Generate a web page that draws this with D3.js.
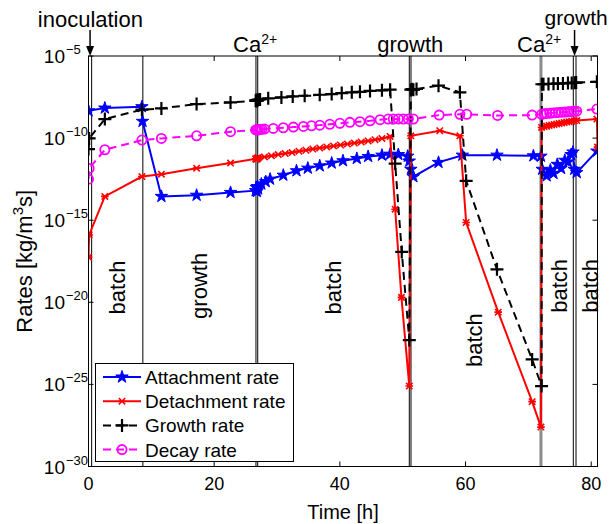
<!DOCTYPE html>
<html><head><meta charset="utf-8">
<script src="https://cdn.jsdelivr.net/npm/d3@7"></script>
<style>body{margin:0;background:#fff}svg{display:block;font-family:"Liberation Sans",Arial,sans-serif}</style>
</head><body><svg id="c" width="609" height="524"></svg>
<script>
// ---- data (times in h, values as log10 of rate) ----
const attT = [0.0,2.6,8.5,8.6,11.6,17.2,22.6,26.6,26.7,26.8,26.9,27.0,27.5,28.2,28.9,31.0,33.1,34.9,36.8,38.7,40.5,42.7,44.5,46.7,48.0,49.3,50.8,51.05,51.3,51.7,55.7,59.5,65.0,70.8,72.0,72.2,72.9,73.5,74.0,74.6,75.2,75.8,76.3,76.8,77.1,77.3,77.7,80.9];
const attLog = [-8.34,-8.17,-8.09,-8.98,-13.55,-13.48,-13.31,-13.2,-13.0,-13.25,-12.95,-13.1,-12.8,-12.65,-12.5,-12.26,-11.99,-11.83,-11.69,-11.52,-11.38,-11.24,-11.12,-11.04,-10.98,-11.0,-11.1,-11.4,-11.9,-12.35,-11.48,-11.04,-11.04,-11.08,-11.1,-11.9,-12.3,-11.95,-12.15,-11.6,-11.85,-11.35,-11.45,-11.0,-10.85,-11.9,-12.1,-10.79];

const detT = [0.0,0.1,2.6,8.5,11.6,17.2,22.6,26.6,26.7,26.8,26.9,27.0,28.0,29.1,30.2,31.3,32.4,33.5,34.6,35.7,36.8,37.9,39.0,40.1,41.2,42.3,43.4,44.5,45.6,46.7,48.0,48.8,49.8,51.05,51.3,55.9,59.1,60.1,65.2,70.6,72.0,72.1,72.5,72.9,73.3,73.7,74.1,74.5,74.9,75.3,75.7,76.1,76.5,76.9,77.3,77.7,80.9,81.0];
const detLog = [-17.25,-15.9,-13.55,-12.34,-12.2,-11.83,-11.52,-11.26,-11.3,-11.22,-11.25,-11.2,-11.15,-11.08,-11.0,-10.94,-10.88,-10.8,-10.74,-10.67,-10.6,-10.54,-10.48,-10.42,-10.36,-10.3,-10.24,-10.17,-10.1,-10.02,-9.9,-14.33,-19.7,-25.1,-9.86,-9.55,-9.86,-15.14,-20.6,-26.05,-27.6,-9.35,-9.3,-9.27,-9.23,-9.2,-9.17,-9.14,-9.11,-9.08,-9.05,-9.02,-9.0,-8.97,-8.95,-8.93,-8.84,-10.55];

const grT = [0.0,0.1,2.6,8.5,11.6,17.2,22.6,26.6,26.7,26.8,26.9,27.0,27.3,28.6,30.7,32.5,34.4,36.8,38.7,40.3,41.9,43.2,44.8,46.7,48.0,48.8,49.85,51.05,51.3,51.5,51.7,52.2,55.7,59.1,60.1,65.0,70.6,72.1,72.15,72.4,73.2,74.0,74.7,75.5,76.3,76.9,77.4,77.6,80.9];
const grLog = [-10.67,-10.02,-8.84,-8.27,-8.19,-7.93,-7.83,-7.72,-7.68,-7.74,-7.7,-7.66,-7.65,-7.58,-7.52,-7.46,-7.42,-7.36,-7.32,-7.26,-7.21,-7.18,-7.13,-7.09,-7.05,-11.55,-16.93,-22.3,-7.05,-7.02,-7.06,-7.01,-6.81,-7.21,-12.6,-17.99,-23.48,-25.1,-6.72,-6.72,-6.7,-6.69,-6.68,-6.67,-6.65,-6.64,-6.63,-6.62,-6.57];

const decT = [0.0,0.1,2.6,8.5,11.6,17.2,22.6,26.6,26.8,27.0,27.3,27.6,28.0,29.4,31.0,32.6,34.2,35.5,36.8,38.4,40.0,41.6,43.2,44.8,46.4,47.7,48.5,49.3,50.1,50.9,51.7,55.8,59.1,60.2,65.1,70.6,72.1,72.5,72.9,73.4,73.8,74.3,74.8,75.3,75.8,76.3,76.8,77.3,77.7,80.9];
const decLog = [-12.5,-11.85,-10.71,-10.12,-10.02,-9.86,-9.61,-9.5,-9.48,-9.5,-9.47,-9.46,-9.45,-9.41,-9.37,-9.33,-9.29,-9.25,-9.21,-9.16,-9.1,-9.04,-9.0,-8.95,-8.88,-8.84,-8.84,-8.83,-8.84,-8.83,-8.84,-8.6,-8.55,-8.55,-8.62,-8.6,-8.55,-8.52,-8.5,-8.48,-8.47,-8.45,-8.44,-8.42,-8.41,-8.4,-8.38,-8.37,-8.36,-8.23];

const seriesNames = ["Attachment rate","Detachment rate","Growth rate","Decay rate"];
const xTicks = [0,20,40,60,80];
const yTickExps = [-5,-10,-15,-20,-25,-30];
const eventLines = [0.5,8.65,26.65,26.93,51.05,51.32,77.15,77.58];
const grayLines = [72.0];
const batchLabels = [
  {t:4.6, e:-19.1, s:"batch"},{t:17.6, e:-19.0, s:"growth"},{t:38.9, e:-19.1, s:"batch"},
  {t:61.3, e:-22.3, s:"batch"},{t:74.9, e:-19.0, s:"batch"},{t:79.8, e:-19.0, s:"batch"}
];

// ---- scales ----
const svg = d3.select("#c");
const x = d3.scaleLinear().domain([0,81]).range([88.5,597.5]);
const y = d3.scaleLog().domain([1e-30,1e-5]).range([466.5,56]);
const L = x(0), R = x(81), T = y(1e-5), B = y(1e-30);

svg.append("defs").append("clipPath").attr("id","clip")
  .append("rect").attr("x",L).attr("y",T-8).attr("width",R-L).attr("height",B-T+8);

// event lines
svg.append("g").selectAll("line").data(grayLines).join("line")
  .attr("x1",d=>x(d)).attr("x2",d=>x(d)).attr("y1",T).attr("y2",B)
  .attr("stroke","#8c8c8c").attr("stroke-width",3);
svg.append("g").selectAll("line").data(eventLines).join("line")
  .attr("x1",d=>x(d)).attr("x2",d=>x(d)).attr("y1",T).attr("y2",B)
  .attr("stroke","#000").attr("stroke-width",1);

// rotated labels
svg.append("g").selectAll("text").data(batchLabels).join("text")
  .attr("transform",d=>`translate(${x(d.t)+8},${y(Math.pow(10,d.e))}) rotate(-90)`)
  .attr("text-anchor","middle").attr("font-size",22).text(d=>d.s);

// series
const mk = (ts, ls) => ts.map((t,i)=>({t, v:Math.pow(10, ls[i])}));
const series = [
  {data:mk(attT,attLog), color:"#0000ff", dash:null, marker:"star"},
  {data:mk(detT,detLog), color:"#ff0000", dash:null, marker:"ast"},
  {data:mk(grT,grLog), color:"#000000", dash:"8,5", marker:"plus"},
  {data:mk(decT,decLog), color:"#ff00ff", dash:"8,5", marker:"circle"}
];
const line = d3.line().x(d=>x(d.t)).y(d=>y(d.v));
const starPath = d3.symbol(d3.symbolStar, 48)();

function drawMarker(g, type, color, cx, cy){
  if(type==="star"){
    g.append("path").attr("d",starPath).attr("transform",`translate(${cx},${cy})`)
      .attr("fill",color).attr("stroke",color).attr("stroke-width",1);
  } else if(type==="ast"){
    const a=3.2;
    g.append("path").attr("d",`M${cx-a},${cy-a}L${cx+a},${cy+a}M${cx-a},${cy+a}L${cx+a},${cy-a}M${cx-a-0.6},${cy}L${cx+a+0.6},${cy}`)
      .attr("stroke",color).attr("stroke-width",1.6).attr("fill","none");
  } else if(type==="plus"){
    const a=6.5;
    g.append("path").attr("d",`M${cx-a},${cy}L${cx+a},${cy}M${cx},${cy-a}L${cx},${cy+a}`)
      .attr("stroke",color).attr("stroke-width",2.2).attr("fill","none");
  } else {
    g.append("circle").attr("cx",cx).attr("cy",cy).attr("r",4.6)
      .attr("stroke",color).attr("stroke-width",1.8).attr("fill","none");
  }
}

const plot = svg.append("g").attr("clip-path","url(#clip)");
series.forEach(s=>{
  const g = plot.append("g");
  g.append("path").datum(s.data).attr("d",line).attr("fill","none")
    .attr("stroke",s.color).attr("stroke-width",2)
    .attr("stroke-dasharray",s.dash);
  s.data.forEach(d=>drawMarker(g, s.marker, s.color, x(d.t), y(d.v)));
});

// axes box
svg.append("rect").attr("x",L).attr("y",T).attr("width",R-L).attr("height",B-T)
  .attr("fill","none").attr("stroke","#000").attr("stroke-width",1);

// ticks
const tk = svg.append("g").attr("stroke","#000").attr("stroke-width",1);
xTicks.forEach(t=>{
  tk.append("line").attr("x1",x(t)).attr("x2",x(t)).attr("y1",B).attr("y2",B-5);
  tk.append("line").attr("x1",x(t)).attr("x2",x(t)).attr("y1",T).attr("y2",T+5);
});
yTickExps.forEach(e=>{
  const yy=y(Math.pow(10,e));
  tk.append("line").attr("x1",L).attr("x2",L+5).attr("y1",yy).attr("y2",yy);
  tk.append("line").attr("x1",R).attr("x2",R-5).attr("y1",yy).attr("y2",yy);
});
svg.append("g").selectAll("text").data(xTicks).join("text")
  .attr("x",d=>x(d)).attr("y",490).attr("text-anchor","middle").attr("font-size",18).text(d=>d);
const yl = svg.append("g");
yTickExps.forEach(e=>{
  const yy=y(Math.pow(10,e));
  yl.append("text").attr("x",65).attr("y",yy+7).attr("text-anchor","end").attr("font-size",19).text("10");
  yl.append("text").attr("x",66).attr("y",yy-2).attr("font-size",13).text("\u2212"+(-e));
});

// axis labels
svg.append("text").attr("x",(L+R)/2).attr("y",519).attr("text-anchor","middle").attr("font-size",20).text("Time [h]");
const ylab = svg.append("text").attr("transform",`translate(32,${(T+B)/2}) rotate(-90)`)
  .attr("text-anchor","middle").attr("font-size",22);
ylab.append("tspan").text("Rates [kg/m");
ylab.append("tspan").attr("font-size",15).attr("dy",-9).text("3");
ylab.append("tspan").attr("dy",9).text("s]");

// top annotations
function arrow(xx, y0){
  svg.append("line").attr("x1",xx).attr("x2",xx).attr("y1",y0).attr("y2",T-8).attr("stroke","#000").attr("stroke-width",1.5);
  svg.append("path").attr("d",`M${xx-4},${T-10}L${xx+4},${T-10}L${xx},${T}Z`).attr("fill","#000");
}
svg.append("text").attr("x",x(0.3)).attr("y",27).attr("text-anchor","middle").attr("font-size",22).text("inoculation");
arrow(x(0.25), 30);
svg.append("text").attr("x",x(77.6)).attr("y",25).attr("text-anchor","middle").attr("font-size",21).text("growth");
arrow(x(77.35), 30);
svg.append("text").attr("x",x(51.2)).attr("y",52).attr("text-anchor","middle").attr("font-size",22).text("growth");
function ca(xl){
  const t = svg.append("text").attr("x",xl).attr("y",52).attr("font-size",22);
  t.append("tspan").text("Ca");
  t.append("tspan").attr("font-size",14).attr("dy",-8).text("2+");
}
ca(233); ca(517);

// legend
const lg = svg.append("g");
lg.append("rect").attr("x",95.5).attr("y",363.5).attr("width",198).attr("height",98)
  .attr("fill","#fff").attr("stroke","#000").attr("stroke-width",1);
series.forEach((s,i)=>{
  const yy = 377 + i*24.2;
  lg.append("line").attr("x1",103).attr("x2",141).attr("y1",yy).attr("y2",yy)
    .attr("stroke",s.color).attr("stroke-width",2).attr("stroke-dasharray",s.dash);
  drawMarker(lg, s.marker, s.color, 122, yy);
  lg.append("text").attr("x",145).attr("y",yy+7).attr("font-size",19).text(seriesNames[i]);
});
</script></body></html>
